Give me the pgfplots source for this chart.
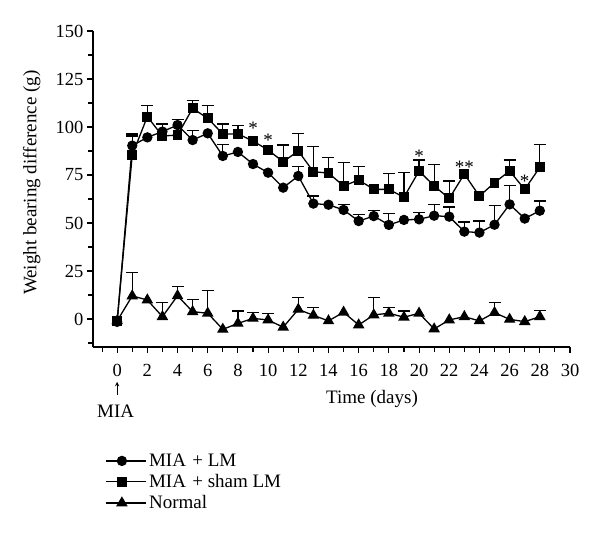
\documentclass[border=0pt]{standalone}
\usepackage{fontspec}
\setmainfont{Liberation Serif}
\usepackage{pgfplots}
\pgfplotsset{compat=1.18}
\usepackage{pgfplotstable}

\pgfplotstableread{
x y
0 -1.5
1 90.3
2 94.6
3 97.6
4 101
5 93.2
6 96.7
7 84.9
8 87
9 80.7
10 76.2
11 68.4
12 74.5
13 60.1
14 59.5
15 56.8
16 51
17 53.6
18 49
19 51.6
20 51.9
21 53.8
22 53.3
23 45.5
24 45
25 49.1
26 59.7
27 52.3
28 56.4
}\lmdata

\pgfplotstableread{
x y e
1 90.3 5
4 101 3
5 93.2 5
7 84.9 6
12 74.5 5
13 60.1 4
15 56.8 3
16 51 3.5
17 53.6 3
18 49 6
20 51.9 3.5
21 53.8 6
22 53.3 5
23 45.5 5
24 45 6
25 49.1 10
26 59.7 10
28 56.4 5
}\lmerr

\pgfplotstableread{
x y
0 -1
1 85.4
2 105.4
3 95.3
4 95.8
5 109.7
6 104.5
7 96.4
8 96.4
9 92.7
10 88
11 81.9
12 87.5
13 76.7
14 76
15 69.3
16 72.4
17 67.5
18 67.5
19 63.4
20 77.1
21 69.3
22 62.8
23 75.5
24 64
25 71
26 77.1
27 67.5
28 79
}\shamdata

\pgfplotstableread{
x y e
1 85.4 11
2 105.4 5.6
3 95.3 6.3
4 95.8 8
5 109.7 4
6 104.5 6.5
7 96.4 5.2
8 96.4 4.3
11 81.9 8.7
12 87.5 9
13 76.7 13
14 76 8
15 69.3 12
16 72.4 7
18 67.5 8.4
19 63.4 12.8
20 77.1 5.7
21 69.3 11.3
22 62.8 9.1
26 77.1 5.7
28 79 12
}\shamerr

\pgfplotstableread{
x y
0 -1
1 12
2 9.9
3 1.2
4 12.1
5 3.8
6 3
7 -5.4
8 -2.3
9 0.3
10 -0.5
11 -4.3
12 5
13 1.9
14 -1
15 3.5
16 -3.1
17 2.1
18 3
19 0.9
20 3
21 -5.2
22 -0.5
23 1.2
24 -1
25 3.3
26 -0.2
27 -1.4
28 1.2
}\normdata

\pgfplotstableread{
x y e
1 12 12
3 1.2 7.5
4 12.1 4.7
5 3.8 6.5
6 3 11.7
8 -2.3 6.5
9 0.3 3.2
10 -0.5 3.5
12 5 6.3
13 1.9 4.2
17 2.1 9.2
18 3 3.1
19 0.9 3.3
25 3.3 5.4
28 1.2 3.1
}\normerr

\pgfplotstableread{
x y label
9 96.3 *
10 89.9 *
20 81.6 *
23 76.0 **
27 68.6 *
}\stars

\begin{document}
\begin{tikzpicture}
\useasboundingbox (0pt,0pt) rectangle (600pt,539pt);
\begin{axis}[
  at={(93pt,192pt)}, anchor=south west,
  scale only axis, width=477pt, height=316pt,
  xmin=-1.6, xmax=30, ymin=-14.6, ymax=150,
  axis lines*=left,
  axis line style={line width=1.2pt},
  xtick={0,2,...,30}, minor xtick={-1,1,...,29},
  ytick={0,25,...,150}, minor ytick={-12.5,12.5,...,137.5},
  tick align=outside, tick pos=left,
  major tick length=6pt, minor tick length=4.5pt,
  every tick/.style={line width=1.1pt, black},
  every minor tick/.style={line width=1.1pt, black},
  ticklabel style={font=\fontsize{18.5}{21}\selectfont},
  xticklabel style={yshift=-8pt},
  /pgf/number format/assume math mode=true,
  xlabel={Time (days)},
  xlabel style={at={(axis description cs:0.585,-0.1646)}, anchor=center, font=\fontsize{19}{22}\selectfont},
  ylabel={Weight bearing difference (g)},
  ylabel style={at={(axis description cs:-0.1285,0.52)}, anchor=center, font=\fontsize{19}{22}\selectfont},
  clip=false,
  legend style={at={(axis description cs:0.02,-0.325)}, anchor=north west, draw=none, fill=none,
    font=\fontsize{19}{22}\selectfont, row sep=2.5pt, legend cell align=left},
  legend image code/.code={\path (0pt,0pt) -- (40pt,0pt); \draw[mark repeat=2,mark phase=2,#1] plot coordinates {(0pt,0pt) (15.5pt,0pt) (31pt,0pt)};},
]
\addplot[black, line width=1.3pt, mark=*, mark size=4.5pt, mark options={solid}] table[x=x,y=y] {\lmdata};
\addlegendentry{MIA\,\,+ LM}
\addplot[black, line width=1.3pt, mark=square*, mark size=4.3pt, mark options={solid}] table[x=x,y=y] {\shamdata};
\addlegendentry{MIA\,\,+ sham LM}
\addplot[black, line width=1.3pt, mark=triangle*, mark size=5.4pt, mark options={solid}] table[x=x,y=y] {\normdata};
\addlegendentry{Normal}

\pgfplotsset{errstyle/.style={only marks, mark=none, forget plot,
  error bars/.cd, y dir=plus, y explicit,
  error bar style={black, line width=1.2pt},
  error mark=|, error mark options={black, line width=1.2pt, mark size=6pt}}}
\addplot[errstyle] table[x=x,y=y,y error=e] {\lmerr};
\addplot[errstyle] table[x=x,y=y,y error=e] {\shamerr};
\addplot[errstyle] table[x=x,y=y,y error=e] {\normerr};

\addplot[only marks, mark=none, forget plot, point meta=explicit symbolic,
  nodes near coords, nodes near coords style={anchor=base, inner sep=0pt, font=\fontsize{19}{22}\selectfont}]
  table[x=x,y=y,meta=label] {\stars};

\draw[->, line width=0.9pt, >=stealth] (axis cs:0,-39.5) -- (axis cs:0,-32.8);
\node[font=\fontsize{19}{22}\selectfont] at (axis cs:-0.1,-48.2) {MIA};
\end{axis}
\end{tikzpicture}
\end{document}
